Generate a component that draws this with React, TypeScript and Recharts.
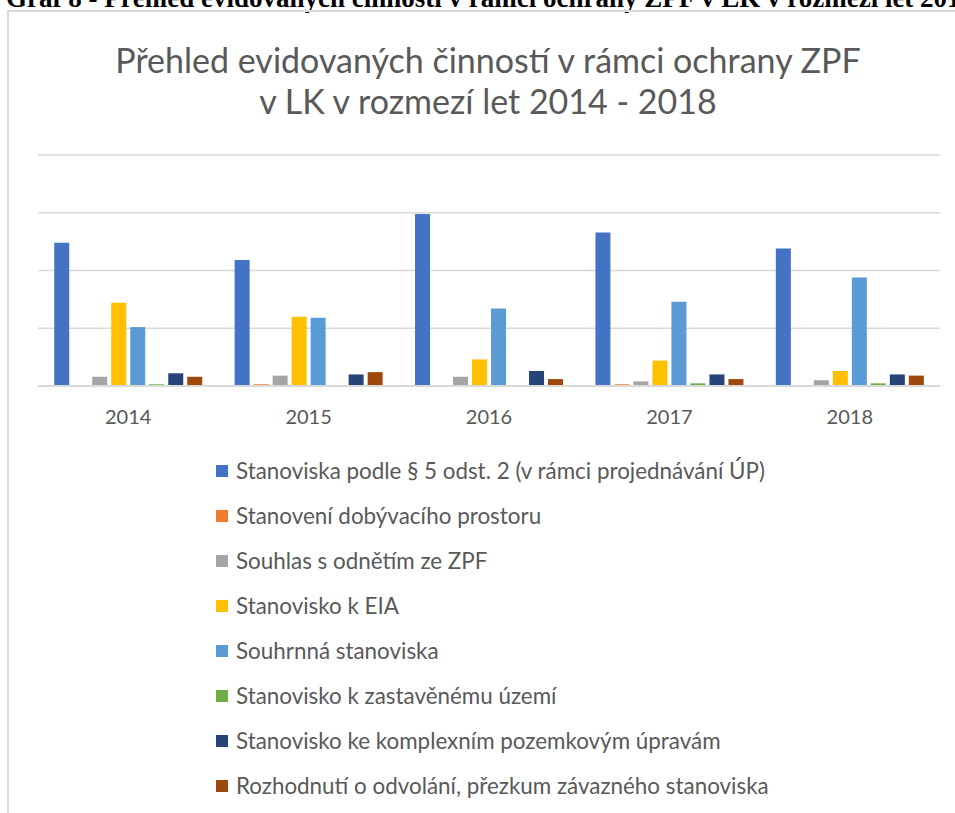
import React from "react";
import { BarChart, Bar, XAxis, YAxis, CartesianGrid, Legend } from "recharts";

const years = ["2014", "2015", "2016", "2017", "2018"];

const seriesNames = [
  "Stanoviska podle § 5 odst. 2 (v rámci projednávání ÚP)",
  "Stanovení dobývacího prostoru",
  "Souhlas s odnětím ze ZPF",
  "Stanovisko k EIA",
  "Souhrnná stanoviska",
  "Stanovisko k zastavěnému území",
  "Stanovisko ke komplexním pozemkovým úpravám",
  "Rozhodnutí o odvolání, přezkum závazného stanoviska",
];

// values per series, one per year
const stanoviskaUP = [124, 109, 149, 133, 119];
const dobyvaciProstor = [0, 1.5, 0, 1.5, 0];
const souhlasOdneti = [8, 9, 8, 4, 5];
const stanoviskoEIA = [72, 60, 23, 22, 13];
const souhrnnaStanoviska = [51, 59, 67, 73, 94];
const zastaveneUzemi = [1.5, 0, 0, 2.3, 2.3];
const pozemkoveUpravy = [11, 10, 13, 10, 10];
const odvolani = [8, 12, 6, 6, 9];

const seriesValues = [
  stanoviskaUP,
  dobyvaciProstor,
  souhlasOdneti,
  stanoviskoEIA,
  souhrnnaStanoviska,
  zastaveneUzemi,
  pozemkoveUpravy,
  odvolani,
];

const colors = ["#4472C4", "#ED7D31", "#A5A5A5", "#FFC000", "#5B9BD5", "#70AD47", "#264478", "#9E480E"];

const yTicks = [0, 50, 100, 150, 200];

const data = years.map((year, i) => {
  const row: Record<string, string | number> = { year };
  seriesValues.forEach((vals, s) => {
    row["s" + s] = vals[i];
  });
  return row;
});

const FONT = "Lato, 'Open Sans', sans-serif";

function LegendList({ payload }: any) {
  // keep series order (recharts sorts legend items by name otherwise)
  const items = [...(payload || [])].sort(
    (a: any, b: any) => seriesNames.indexOf(a.value) - seriesNames.indexOf(b.value)
  );
  return (
    <div style={{ fontFamily: FONT, fontSize: 22.4, color: "#595959" }}>
      {items.map((p: any, i: number) => (
        <div key={i} style={{ display: "flex", alignItems: "center", height: 45 }}>
          <span style={{ display: "inline-block", width: 12, height: 12, background: p.color, marginRight: 8 }} />
          <span>{p.value}</span>
        </div>
      ))}
    </div>
  );
}

export default function App() {
  return (
    <div style={{ position: "absolute", left: 0, top: 0, width: 955, height: 813, overflow: "hidden", background: "#fff" }}>
      <div
        style={{
          position: "absolute",
          left: 6,
          top: -15,
          whiteSpace: "nowrap",
          fontFamily: "'Liberation Serif', 'Times New Roman', serif",
          fontWeight: "bold",
          fontSize: 27,
          lineHeight: "26px",
          color: "#000",
        }}
      >
        Graf 8 - Přehled evidovaných činností v rámci ochrany ZPF v LK v rozmezí let 2014-2018
      </div>
      <div
        style={{
          position: "absolute",
          left: 7,
          top: 10,
          width: 1000,
          height: 900,
          border: "2px solid #d9d9d9",
        }}
      />
      <div
        style={{
          position: "absolute",
          left: 0,
          top: 39,
          width: 976,
          textAlign: "center",
          fontFamily: FONT,
          fontSize: 34,
          lineHeight: "41px",
          color: "#595959",
        }}
      >
        Přehled evidovaných činností v rámci ochrany ZPF
        <br />v LK v rozmezí let 2014 - 2018
      </div>
      <div style={{ position: "absolute", left: 0, top: 0 }}>
        <BarChart
          width={955}
          height={813}
          data={data}
          margin={{ top: 155, left: 38, right: 15, bottom: 397 }}
          barCategoryGap="9%"
          barGap={4}
        >
          <CartesianGrid vertical={false} stroke="#d9d9d9" strokeWidth={1.5} />
          <XAxis
            dataKey="year"
            tickLine={false}
            axisLine={{ stroke: "#d9d9d9", strokeWidth: 2 }}
            tickMargin={18}
            tick={{ fontFamily: FONT, fontSize: 20, fill: "#595959" }}
          />
          <YAxis hide domain={[0, 200]} ticks={yTicks} />
          <Legend
            layout="vertical"
            align="center"
            verticalAlign="middle"
            wrapperStyle={{ left: 216, top: 448, width: 720 }}
            content={<LegendList />}
          />
          {seriesNames.map((name, s) => (
            <Bar key={name} dataKey={"s" + s} name={name} fill={colors[s]} isAnimationActive={false} />
          ))}
        </BarChart>
      </div>
    </div>
  );
}
